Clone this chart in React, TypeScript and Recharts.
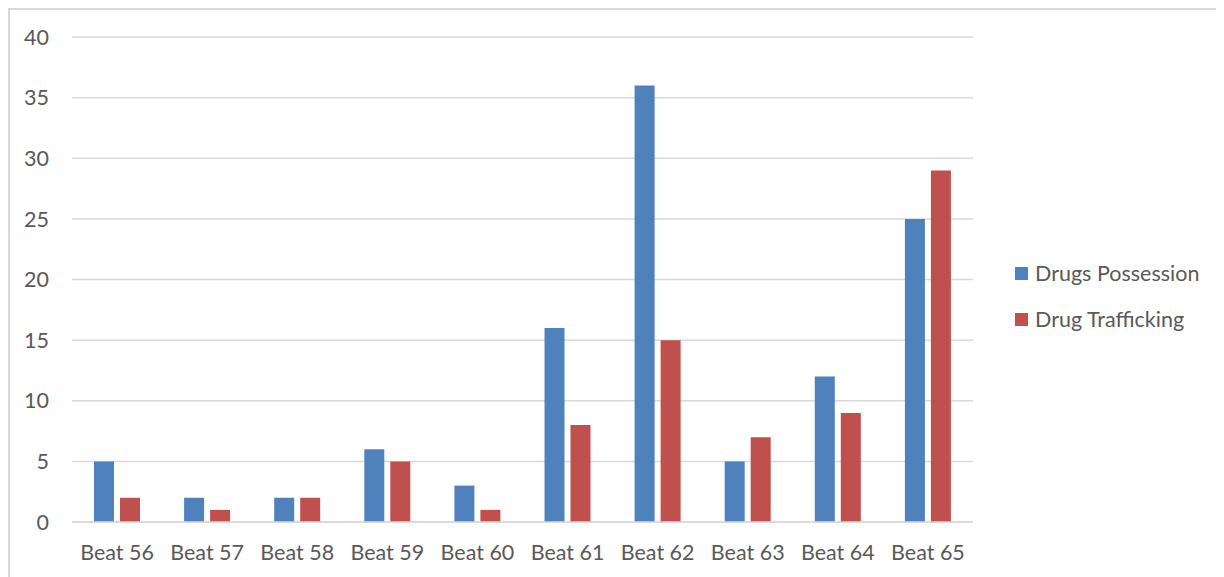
import { BarChart, Bar, XAxis, YAxis, CartesianGrid, Legend } from 'recharts';

const beats = ['Beat 56', 'Beat 57', 'Beat 58', 'Beat 59', 'Beat 60', 'Beat 61', 'Beat 62', 'Beat 63', 'Beat 64', 'Beat 65'];
const possession = [5, 2, 2, 6, 3, 16, 36, 5, 12, 25];
const trafficking = [2, 1, 2, 5, 1, 8, 15, 7, 9, 29];
const yTicks = [0, 5, 10, 15, 20, 25, 30, 35, 40];
const seriesNames = ['Drugs Possession', 'Drug Trafficking'];

const data = beats.map((beat, i) => ({
  beat,
  possession: possession[i],
  trafficking: trafficking[i],
}));

const textColor = '#595959';
const font = 'Lato, "Open Sans", sans-serif';

function renderLegend(props: any) {
  const items = [...(props.payload || [])].sort(
    (a: any, b: any) => seriesNames.indexOf(a.value) - seriesNames.indexOf(b.value)
  );
  return (
    <div style={{ fontFamily: font, fontSize: 21.5, color: textColor }}>
      {items.map((item: any) => (
        <div key={item.value} style={{ height: 46, display: 'flex', alignItems: 'center' }}>
          <span style={{ width: 13, height: 13, background: item.color, marginRight: 7, display: 'inline-block' }} />
          <span>{item.value}</span>
        </div>
      ))}
    </div>
  );
}

export default function App() {
  return (
    <div
      style={{
        width: 1214,
        height: 567,
        borderLeft: '2px solid #d9d9d9',
        borderTop: '2px solid #d9d9d9',
        background: '#fff',
      }}
    >
      <BarChart
        width={1214}
        height={567}
        data={data}
        // the x axis adds its own 30px below the plot
        margin={{ top: 27, right: 251, left: 0, bottom: 25 }}
        barSize={20}
        barGap={6}
      >
        <CartesianGrid vertical={false} stroke="#d9d9d9" strokeWidth={1.5} />
        <XAxis
          dataKey="beat"
          axisLine={{ stroke: '#d9d9d9', strokeWidth: 1.5 }}
          tickLine={false}
          tickMargin={17}
          interval={0}
          tick={{ fill: textColor, fontSize: 21.5, fontFamily: font }}
        />
        <YAxis
          domain={[0, 40]}
          ticks={yTicks}
          width={62}
          axisLine={false}
          tickLine={false}
          tickMargin={17}
          tick={{ fill: textColor, fontSize: 21.5, fontFamily: font }}
        />
        <Legend
          layout="vertical"
          align="center"
          verticalAlign="middle"
          content={renderLegend}
          wrapperStyle={{ position: 'absolute', left: 1005, top: 240, width: 220 }}
        />
        <Bar dataKey="possession" name="Drugs Possession" fill="#4f81bd" isAnimationActive={false} />
        <Bar dataKey="trafficking" name="Drug Trafficking" fill="#c0504d" isAnimationActive={false} />
      </BarChart>
    </div>
  );
}
